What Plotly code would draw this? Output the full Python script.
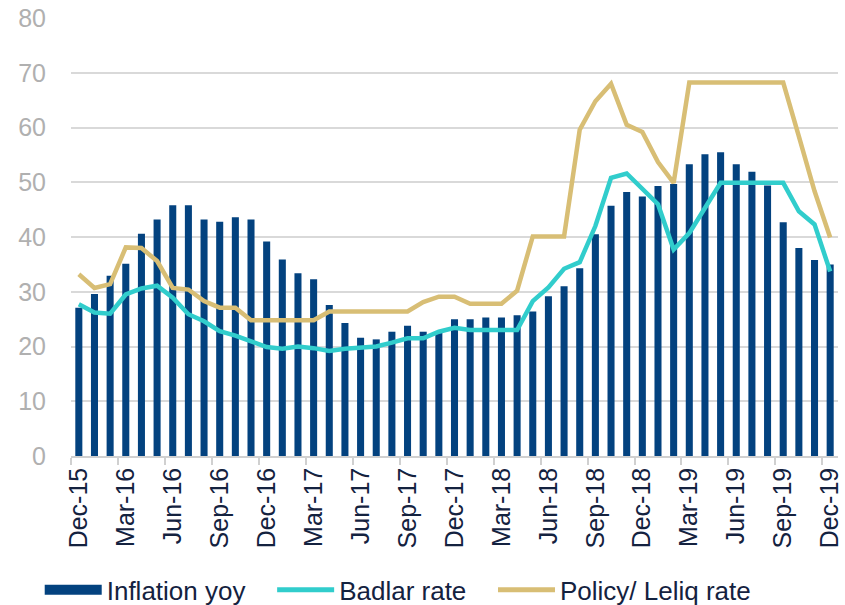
import plotly.graph_objects as go

mnames = ["Jan","Feb","Mar","Apr","May","Jun","Jul","Aug","Sep","Oct","Nov","Dec"]
months = ["Dec-15"] + [f"{m}-{yy}" for yy in range(16, 20) for m in mnames]

inflation = [27.1, 29.6, 32.9, 35.1, 40.6, 43.2, 45.8, 45.8, 43.2, 42.8, 43.6, 43.2,
             39.2, 35.9, 33.4, 32.3, 27.6, 24.3, 21.6, 21.3, 22.7, 23.8, 22.7, 22.5,
             25.0, 25.0, 25.3, 25.3, 25.7, 26.4, 29.2, 31.0, 34.3, 40.5, 45.7, 48.2,
             47.4, 49.3, 49.7, 53.3, 55.1, 55.5, 53.3, 51.9, 49.4, 42.7, 38.0, 35.8, 35.0]

badlar = [27.7, 26.2, 26.0, 29.5, 30.6, 31.1, 28.9, 25.9, 24.6, 22.8, 22.0, 21.0,
          19.9, 19.6, 20.0, 19.7, 19.2, 19.6, 19.7, 20.0, 20.7, 21.5, 21.5, 22.7,
          23.4, 23.0, 23.0, 23.0, 23.0, 28.3, 30.8, 34.2, 35.4, 42.0, 50.8, 51.6,
          48.7, 46.0, 37.7, 40.7, 45.3, 49.9, 49.9, 49.9, 49.9, 49.9, 44.7, 42.3, 33.7]

policy = [33.2, 30.7, 31.4, 38.1, 38.0, 35.6, 30.7, 30.4, 28.3, 27.1, 27.1, 24.8,
          24.8, 24.8, 24.8, 24.8, 26.4, 26.4, 26.4, 26.4, 26.4, 26.4, 28.1, 29.1,
          29.1, 27.8, 27.8, 27.8, 30.2, 40.1, 40.1, 40.1, 59.6, 64.8, 68.0, 60.5,
          59.2, 53.7, 49.9, 68.2, 68.2, 68.2, 68.2, 68.2, 68.2, 68.2, 58.4, 48.4, 39.9]

series_names = ["Inflation yoy", "Badlar rate", "Policy/ Leliq rate"]

yticks = [0, 10, 20, 30, 40, 50, 60, 70, 80]

FONT = "Liberation Sans, Arial, sans-serif"
NAVY = "#03427f"
TEAL = "#31cdcc"
GOLD = "#d8be75"
TEXT = "#14223f"
PAD = "\u00a0\u00a0\u00a0"

fig = go.Figure()
fig.add_trace(go.Bar(x=months, y=inflation, name=series_names[0], showlegend=False,
                     marker=dict(color=NAVY, line=dict(width=0))))
fig.add_trace(go.Scatter(x=months, y=badlar, name=series_names[1], mode="lines",
                         showlegend=False, line=dict(color=TEAL, width=4.5)))
fig.add_trace(go.Scatter(x=months, y=policy, name=series_names[2], mode="lines",
                         showlegend=False, line=dict(color=GOLD, width=4.5)))

# legend proxies (same series names / colours)
fig.add_trace(go.Scatter(x=[None], y=[None], mode="lines", name=series_names[0] + PAD,
                         line=dict(color=NAVY, width=14)))
fig.add_trace(go.Scatter(x=[None], y=[None], mode="lines", name=series_names[1] + PAD,
                         line=dict(color=TEAL, width=5)))
fig.add_trace(go.Scatter(x=[None], y=[None], mode="lines", name=series_names[2],
                         line=dict(color=GOLD, width=5)))

fig.update_layout(
    width=845, height=605,
    margin=dict(l=71, r=7, t=18, b=149, autoexpand=False),
    paper_bgcolor="white", plot_bgcolor="white",
    bargap=0.55,
    font=dict(family=FONT, size=25, color=TEXT),
    showlegend=True,
    legend=dict(orientation="h", xref="container", yref="container",
                x=0.047, xanchor="left", y=0.025, yanchor="middle",
                font=dict(size=26, color=TEXT), traceorder="normal",
                itemwidth=57, bgcolor="rgba(0,0,0,0)"),
    xaxis=dict(type="category", tickmode="linear", tick0=0, dtick=3,
               tickson="boundaries", ticks="outside", ticklen=7, tickcolor="#d0d0d0",
               tickwidth=1.5, automargin=False, ticklabeloverflow="allow",
               tickangle=-90, showgrid=False, showline=True, linecolor="#d0d0d0",
               linewidth=1.5, tickfont=dict(size=25, color=TEXT),
               range=[-0.5, 48.5]),
    yaxis=dict(range=[0, 80], tickvals=yticks, showgrid=True, gridcolor="#d9d9d9",
               gridwidth=1.5, zeroline=False, showline=False, ticks="",
               automargin=False, ticklabeloverflow="allow",
               tickfont=dict(size=25, color="#b0b0b0"), ticklabelstandoff=24),
)

fig.write_html("out.html",
               config={"displayModeBar": False},
               post_script="document.body.style.margin='0px';document.body.style.overflow='hidden';")
